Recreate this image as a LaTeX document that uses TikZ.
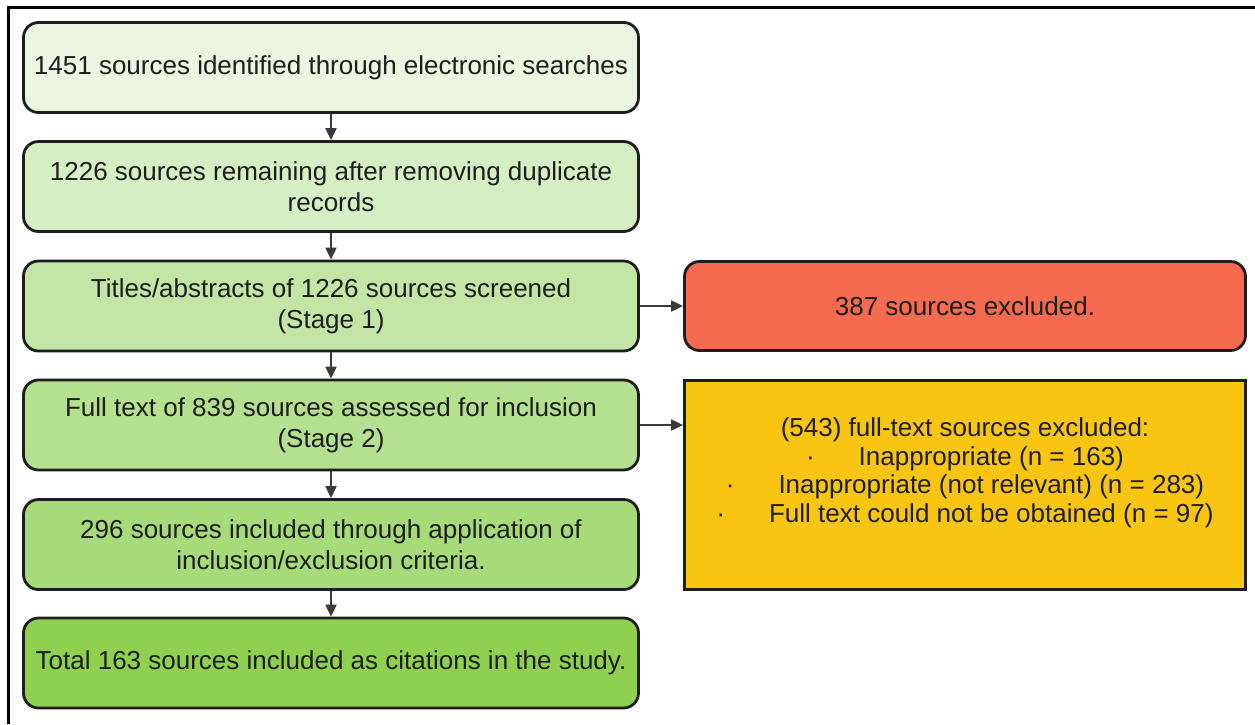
\documentclass[tikz,border=0pt]{standalone}
\usepackage{fontspec}
\setmainfont{Liberation Sans}
\usetikzlibrary{arrows.meta}
\definecolor{stepA}{HTML}{EBF6E0}
\definecolor{stepB}{HTML}{D6EEC4}
\definecolor{stepC}{HTML}{C3E6A6}
\definecolor{stepD}{HTML}{B5E08F}
\definecolor{stepE}{HTML}{A7DA79}
\definecolor{stepF}{HTML}{90D050}
\definecolor{exclRed}{HTML}{F46B4F}
\definecolor{exclYellow}{HTML}{F9C513}
\definecolor{ink}{HTML}{1E1E1E}
\definecolor{arrowgray}{HTML}{3A3A3A}
\tikzset{
  stagebox/.style={draw=ink, line width=2.8pt, rounded corners=15pt,
    minimum width=615pt, minimum height=90pt, inner sep=0pt,
    align=center, text=ink, font=\fontsize{26}{31}\selectfont},
  sidebox/.style={draw=ink, line width=2.8pt, minimum width=561pt, inner sep=0pt},
  sidetext/.style={align=center, text=ink, inner sep=0pt, font=\fontsize{26}{28.5}\selectfont},
  flow/.style={draw=arrowgray, line width=2pt,
    -{Triangle[width=11pt,length=12pt]}}
}
\begin{document}
\begin{tikzpicture}[x=1pt,y=-1pt]
\useasboundingbox (0,0) rectangle (1255,724);
\fill[white] (0,0) rectangle (1255,724);
% outer frame (top and left edges)
\draw[black, line width=3pt] (8,724) -- (8,7) -- (1255,7);

\node[stagebox, fill=stepA] (s1) at (331,67.5) {1451 sources identified through electronic searches};
\node[stagebox, fill=stepB] (s2) at (331,186.5) {1226 sources remaining after removing duplicate\\records};
\node[stagebox, fill=stepC] (s3) at (331,306) {Titles/abstracts of 1226 sources screened\\(Stage 1)};
\node[stagebox, fill=stepD] (s4) at (331,425) {Full text of 839 sources assessed for inclusion\\(Stage 2)};
\node[stagebox, fill=stepE] (s5) at (331,544.5) {296 sources included through application of\\inclusion/exclusion criteria.};
\node[stagebox, fill=stepF] (s6) at (331,663) {Total 163 sources included as citations in the study.};

\node[sidebox, fill=exclRed, rounded corners=15pt, minimum height=89pt] (r1) at (965,306) {};
\node[sidetext] (r1t) at (965,306) {387 sources excluded.};

\node[sidebox, fill=exclYellow, minimum height=209pt] (y1) at (965,485) {};
\node[sidetext] (y1t) at (965,473) {(543) full-text sources excluded:\\
  ·\hspace{44pt}Inappropriate (n = 163)\\
  ·\hspace{44pt}Inappropriate (not relevant) (n = 283)\\
  ·\hspace{44pt}Full text could not be obtained (n = 97)};

\draw[flow] (s1) -- (s2);
\draw[flow] (s2) -- (s3);
\draw[flow] (s3) -- (s4);
\draw[flow] (s4) -- (s5);
\draw[flow] (s5) -- (s6);
\draw[flow] (s3.east) -- (r1.west);
\draw[flow] (s4.east) -- (y1.west |- s4.east);
\end{tikzpicture}
\end{document}
